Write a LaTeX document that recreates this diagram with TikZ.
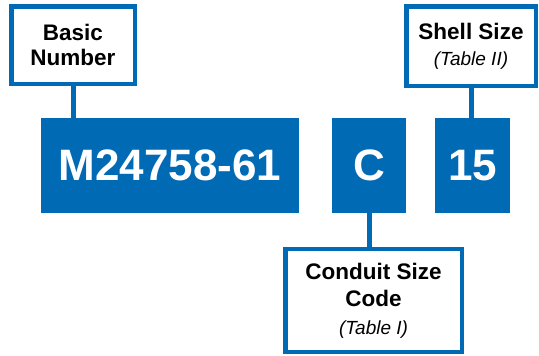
\documentclass[tikz,border=0pt]{standalone}
\usepackage{fontspec}
\setmainfont{Liberation Sans}
\definecolor{partblue}{RGB}{0,106,180}
\begin{document}
\begin{tikzpicture}[x = 1pt, y = -1pt,
        callout/.style = {draw = partblue, line width = 4.5pt, fill = white, align = center, inner sep = 0pt,
            font = \fontsize{22.5}{25}\selectfont\bfseries},
        field/.style = {fill = partblue, text = white, inner sep = 0pt, minimum height = 95pt,
            font = \fontsize{44}{50}\selectfont\bfseries},
        stem/.style = {partblue, line width = 5pt}]
        \useasboundingbox (0, 0) rectangle (539, 356);
        % part number fields
        \node[field, minimum width = 258pt] (number) at (170, 165.5) {M24758-61};
        \node[field, minimum width = 74pt] (conduit) at (369, 165.5) {C};
        \node[field, minimum width = 75pt] (shell) at (472.5, 165.5) {15};
        % callouts
        \node[callout, minimum width = 123.5pt, minimum height = 77.5pt] (basicbox) at (73, 45)
            {Basic\\ Number};
        \node[callout, minimum width = 129.5pt, minimum height = 79.5pt] (shellbox) at (471, 46)
            {Shell Size\\[1pt] {\fontsize{19}{24}\selectfont\mdseries\itshape (Table II)}};
        \node[callout, minimum width = 176.5pt, minimum height = 103pt, font = \fontsize{22.5}{27.5}\selectfont\bfseries]
            (conduitbox) at (373.5, 300.5)
            {Conduit Size\\ Code\\[0pt] {\fontsize{19}{25}\selectfont\mdseries\itshape (Table I)}};
        % leaders
        \draw[stem] (basicbox.south) -- (basicbox.south |- number.north);
        \draw[stem] (shellbox.south) -- (shellbox.south |- shell.north);
        \draw[stem] (conduit.south) -- (conduit.south |- conduitbox.north);
    \end{tikzpicture}
\end{document}
